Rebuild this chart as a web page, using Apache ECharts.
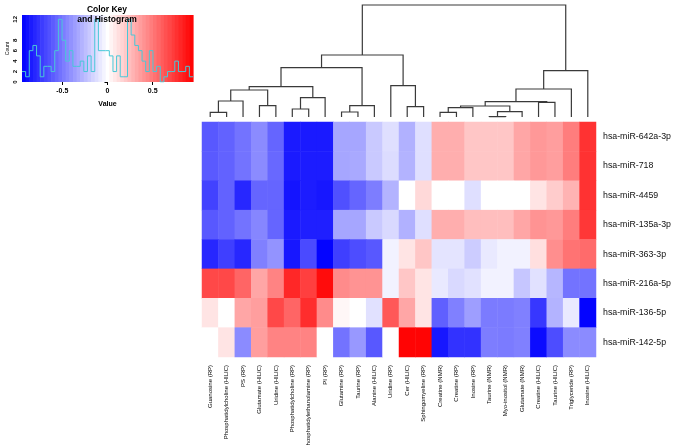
<!DOCTYPE html>
<html>
<head>
<meta charset="utf-8">
<script src="https://cdn.jsdelivr.net/npm/echarts@6/dist/echarts.min.js"></script>
<style>
  html, body { margin: 0; padding: 0; background: #fff; }
  #chart { width: 675px; height: 445px; }
</style>
</head>
<body>
<div id="chart"></div>
<script>
const colLabels = [
  'Guanosine (RP)', 'Phosphatidylcholine (HILIC)', 'PS (RP)', 'Glutamate (HILIC)',
  'Uridine (HILIC)', 'Phosphatidylcholine (RP)', 'Phosphatidylethanolamine (RP)', 'PI (RP)',
  'Glutamine (RP)', 'Taurine (RP)', 'Alanine (HILIC)', 'Uridine (RP)',
  'Cer (HILIC)', 'Sphingomyeline (RP)', 'Creatine (NMR)', 'Creatine (RP)',
  'Inosine (RP)', 'Taurine (NMR)', 'Myo-inositol (NMR)', 'Glutamate (NMR)',
  'Creatine (HILIC)', 'Taurine (HILIC)', 'Triglyceride (RP)', 'Inosine (HILIC)'
];
const rowLabels = [
  'hsa-miR-642a-3p', 'hsa-miR-718', 'hsa-miR-4459', 'hsa-miR-135a-3p',
  'hsa-miR-363-3p', 'hsa-miR-216a-5p', 'hsa-miR-136-5p', 'hsa-miR-142-5p'
];
// one array per miRNA row, one value per metabolite column
const cellValues = [
  [-0.62,-0.58,-0.52,-0.43,-0.57,-0.85,-0.85,-0.85,-0.33,-0.33,-0.2,-0.12,-0.29,-0.12,0.3,0.3,0.21,0.21,0.21,0.33,0.38,0.36,0.48,0.76],
  [-0.61,-0.58,-0.52,-0.43,-0.56,-0.85,-0.84,-0.84,-0.33,-0.32,-0.2,-0.13,-0.28,-0.12,0.3,0.3,0.21,0.21,0.21,0.33,0.38,0.36,0.48,0.76],
  [-0.7,-0.58,-0.8,-0.57,-0.57,-0.87,-0.84,-0.86,-0.65,-0.57,-0.48,-0.28,0,0.14,0,0,-0.12,0,0,0,0.1,0.19,0.28,0.76],
  [-0.62,-0.58,-0.52,-0.45,-0.57,-0.85,-0.83,-0.83,-0.33,-0.33,-0.2,-0.14,-0.29,-0.12,0.3,0.3,0.24,0.24,0.24,0.33,0.4,0.38,0.48,0.74],
  [-0.8,-0.71,-0.8,-0.47,-0.4,-0.86,-0.67,-0.93,-0.71,-0.66,-0.62,-0.05,0.1,0.21,-0.1,-0.1,-0.19,-0.08,-0.05,-0.05,0.12,0.42,0.52,0.55],
  [0.68,0.68,0.57,0.33,0.46,0.8,0.71,0.9,0.43,0.4,0.4,-0.05,0.21,0.1,-0.08,-0.14,-0.11,-0.05,-0.05,-0.21,-0.11,-0.27,-0.52,-0.52],
  [0.1,0,0.33,0.36,0.68,0.57,0.78,0.43,0.03,0,-0.11,0.62,0.33,0.1,-0.59,-0.47,-0.36,-0.49,-0.49,-0.47,-0.74,-0.28,-0.08,-0.93],
  [0,0.1,-0.43,0.36,0.46,0.46,0.46,0,-0.52,-0.38,-0.62,0,0.93,0.93,-0.86,-0.76,-0.76,-0.48,-0.49,-0.47,-0.9,-0.66,-0.43,-0.43]
];

// column dendrogram, hclust style: negative = leaf (1-based), positive = earlier merge row
const colMerges = [
  [-1, -2], [1, -3], [-4, -5], [2, 3], [-6, -7], [5, -8], [4, 6],
  [-9, -10], [8, -11], [7, 9], [-13, -14], [-12, 11], [10, 12],
  [-15, -16], [14, -17], [-18, -19], [16, -20], [15, 17], [-21, -22],
  [18, 19], [20, -23], [21, -24], [13, 22]
];
const colMergeHeights = [4.7, 16, 11.3, 27, 8, 19.3, 30.3, 5, 11.3, 49.3, 10.3, 31.3, 62,
  4.7, 9.3, 0.3, 5.3, 11, 14.7, 15.3, 28, 46.3, 112];

// colour key + histogram of cell values
const keyMin = -0.945;
const keyMax = 0.945;
const histCounts = [2,1,6,7,5,1,3,3,2,6,12,8,4,6,3,3,4,2,5,2,12,6,6,6,5,2,5,1,1,12,9,7,6,4,2,6,2,3,0,1,2,2,4,2,2,3,1];
const keyTicks = [-0.5, 0, 0.5];
const countTicks = [0, 2, 4, 6, 8, 10, 12];

const histTop = 12.83;
const binW = (keyMax - keyMin) / histCounts.length;

// heatmap cells
const heatData = [];
cellValues.forEach((row, r) => row.forEach((v, c) => heatData.push([c, r, v])));

// dendrogram segments
const nodes = [];
function nodeOf(ref) {
  if (ref < 0) return { x: -ref - 1, h: 0 };
  return nodes[ref - 1];
}
const dendroData = colMerges.map((m, i) => {
  const a = nodeOf(m[0]), b = nodeOf(m[1]);
  const h = colMergeHeights[i];
  nodes.push({ x: (a.x + b.x) / 2, h: h });
  return [a.x, a.h, b.x, b.h, h];
});

// histogram step line
const histLine = histCounts.map((c, k) => [keyMin + k * binW, c]);
histLine.push([keyMax, histCounts[histCounts.length - 1]]);
const keyBands = histCounts.map((c, k) => [keyMin + (k + 0.5) * binW, 0]);

const chart = echarts.init(document.getElementById('chart'));
const font = 'Liberation Sans, Arial, sans-serif';

const option = {
  animation: false,
  textStyle: { fontFamily: font },
  title: {
    text: 'Color Key\nand Histogram',
    left: 102, top: 0, textAlign: 'center',
    textStyle: { fontSize: 8.5, fontWeight: 'bold', lineHeight: 9.5, color: '#000', fontFamily: font }
  },
  grid: [
    { left: 202, width: 394, top: 122, height: 235, outerBoundsMode: 'none' },
    { left: 202, width: 394, top: 5, height: 112, outerBoundsMode: 'none' },
    { left: 22, width: 171, top: 15, height: 67, outerBoundsMode: 'none' }
  ],
  xAxis: [
    {
      gridIndex: 0, type: 'category', data: colLabels,
      axisLine: { show: false }, axisTick: { show: false }, splitLine: { show: false },
      axisLabel: { rotate: 90, interval: 0, margin: 8, fontSize: 6, color: '#000', fontFamily: font }
    },
    { gridIndex: 1, type: 'value', min: -0.5, max: 23.5, show: false },
    {
      gridIndex: 2, type: 'value', min: keyMin, max: keyMax,
      splitLine: { show: false }, axisLine: { show: false },
      axisTick: { show: true, length: 3, customValues: keyTicks, lineStyle: { color: '#000' } },
      axisLabel: { customValues: keyTicks, fontSize: 7, fontWeight: 'bold', color: '#000', margin: 6 },
      name: 'Value', nameLocation: 'middle', nameGap: 19,
      nameTextStyle: { fontSize: 7, fontWeight: 'bold', color: '#000' }
    }
  ],
  yAxis: [
    {
      gridIndex: 0, type: 'category', data: rowLabels, inverse: true, position: 'right',
      axisLine: { show: false }, axisTick: { show: false }, splitLine: { show: false },
      axisLabel: { margin: 7, fontSize: 8.8, color: '#111', fontFamily: font }
    },
    { gridIndex: 1, type: 'value', min: 0, max: 112, show: false },
    {
      gridIndex: 2, type: 'value', min: 0, max: histTop,
      splitLine: { show: false }, axisLine: { show: false },
      axisTick: { show: true, length: 3, customValues: countTicks, lineStyle: { color: '#000' } },
      axisLabel: {
        customValues: countTicks, rotate: 90, fontSize: 6, fontWeight: 'bold', color: '#000', margin: 4,
        formatter: v => (v === 10 ? '' : String(v))
      },
      name: 'Count', nameLocation: 'middle', nameGap: 12,
      nameTextStyle: { fontSize: 5, color: '#000' }
    }
  ],
  visualMap: [
    {
      type: 'continuous', show: false, seriesIndex: 0, dimension: 2,
      min: keyMin, max: keyMax, inRange: { color: ['#0000ff', '#ffffff', '#ff0000'] }
    },
    {
      type: 'continuous', show: false, seriesIndex: 2, dimension: 0,
      min: keyMin, max: keyMax, inRange: { color: ['#0000ff', '#ffffff', '#ff0000'] }
    }
  ],
  series: [
    {
      type: 'heatmap', xAxisIndex: 0, yAxisIndex: 0, data: heatData,
      itemStyle: { borderWidth: 0 }, emphasis: { disabled: true }
    },
    {
      type: 'custom', xAxisIndex: 1, yAxisIndex: 1, data: dendroData, silent: true,
      encode: { x: [0, 2], y: [1, 3, 4] },
      renderItem: function (params, api) {
        const p1 = api.coord([api.value(0), api.value(1)]);
        const p2 = api.coord([api.value(0), api.value(4)]);
        const p3 = api.coord([api.value(2), api.value(4)]);
        const p4 = api.coord([api.value(2), api.value(3)]);
        return {
          type: 'polyline',
          shape: { points: [p1, p2, p3, p4] },
          style: { stroke: '#3a3a3a', lineWidth: 1.2, fill: null }
        };
      }
    },
    {
      type: 'custom', xAxisIndex: 2, yAxisIndex: 2, data: keyBands, silent: true, z: 1,
      renderItem: function (params, api) {
        const c = api.value(0);
        const a = api.coord([c - binW / 2, histTop]);
        const b = api.coord([c + binW / 2, 0]);
        return {
          type: 'rect',
          shape: { x: a[0], y: a[1], width: b[0] - a[0] + 0.6, height: b[1] - a[1] },
          style: { fill: api.visual('color') }
        };
      }
    },
    {
      type: 'line', xAxisIndex: 2, yAxisIndex: 2, data: histLine, step: 'end', z: 3,
      symbol: 'none', silent: true,
      lineStyle: { color: '#48c8d8', width: 1 }
    }
  ]
};

chart.setOption(option);
</script>
</body>
</html>
